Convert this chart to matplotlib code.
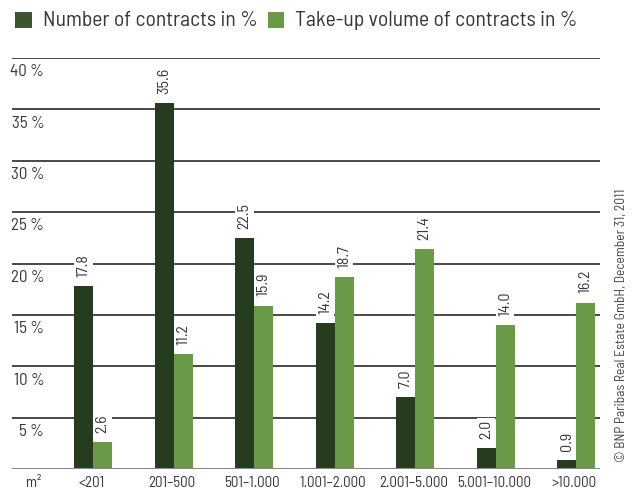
import numpy as np
import matplotlib.pyplot as plt
from matplotlib.patches import Rectangle
from matplotlib import font_manager

categories = ["<201", "201–500", "501–1.000", "1.001–2.000", "2.001–5.000", "5.001–10.000", ">10.000"]
contracts = [17.8, 35.6, 22.5, 14.2, 7.0, 2.0, 0.9]
takeup = [2.6, 11.2, 15.9, 18.7, 21.4, 14.0, 16.2]
yticks = [5, 10, 15, 20, 25, 30, 35, 40]

# a narrow sans if one is available, else DejaVu
names = {f.name for f in font_manager.fontManager.ttflist}
fam = "DejaVu Sans"
for cand in ("Barlow Semi Condensed", "Archivo Narrow", "Asap Condensed"):
    if cand in names:
        fam = cand
        break
plt.rcParams["font.family"] = [fam, "DejaVu Sans"]
scale = 1.0 if fam != "DejaVu Sans" else 0.8

dark = "#263c1f"
light = "#6a9948"
txt = "#383838"

W, H = 633, 490
fig = plt.figure(figsize=(W / 100, H / 100), dpi=100)
# axes box in pixels: left 12, right 600, top 58 (40 %), bottom 469 (0 %)
ax = fig.add_axes([12 / W, 1 - 469 / H, (600 - 12) / W, (469 - 58) / H])

x = np.arange(len(categories))
step = 80.5
ax.set_xlim((12 - 93) / step, (600 - 93) / step)
ax.set_ylim(0, 40)
bw = 19 / step

for v in yticks:
    ax.axhline(v, color="#3a3a3a", lw=1.3, zorder=1)
ax.axhline(0, color="#8a8a8a", lw=2.2, zorder=4)

ax.bar(x - bw / 2, contracts, bw, color=dark, zorder=3)
ax.bar(x + bw / 2, takeup, bw, color=light, zorder=3)

for xs, vals in ((x - bw / 2, contracts), (x + bw / 2, takeup)):
    for xi, v in zip(xs, vals):
        ax.text(xi, v + 0.9, f"{v:.1f}", rotation=90, ha="center", va="bottom",
                fontsize=11.5 * scale, color=txt, zorder=5,
                bbox=dict(facecolor="white", edgecolor="none", pad=1.5))

ytr = ax.get_yaxis_transform()
for v in yticks:
    ax.text(0.055, v - 1.35, f"{v}\u2009%", transform=ytr, ha="right", va="center",
            fontsize=12.2 * scale, color=txt, zorder=5)

for xi, c in zip(x, categories):
    ax.text(xi - 0.02, -1.4, c, ha="center", va="center", fontsize=10.8 * scale, color=txt,
            clip_on=False)
fig.text(34 / W, 1 - 483 / H, "m²", ha="center", va="center", fontsize=10.8 * scale, color=txt)

for s in ax.spines.values():
    s.set_visible(False)
ax.set_xticks([])
ax.set_yticks([])

# legend
fig.patches.append(Rectangle((15 / W, 1 - 28 / H), 17 / W, 16 / H, transform=fig.transFigure,
                             facecolor="#3e5431", edgecolor="none"))
fig.text(43 / W, 1 - 20 / H, "Number of contracts in %", ha="left", va="center",
         fontsize=15.6 * scale, color=txt)
fig.patches.append(Rectangle((268 / W, 1 - 28 / H), 16 / W, 16 / H, transform=fig.transFigure,
                             facecolor=light, edgecolor="none"))
fig.text(295 / W, 1 - 20 / H, "Take-up volume of contracts in %", ha="left", va="center",
         fontsize=15.6 * scale, color=txt)

fig.text(622 / W, 1 - 462 / H, "© BNP Paribas Real Estate GmbH, December 31, 2011",
         rotation=90, ha="center", va="bottom", fontsize=9.7 * scale, color="#444444")

fig.savefig("out.png", dpi=100)
